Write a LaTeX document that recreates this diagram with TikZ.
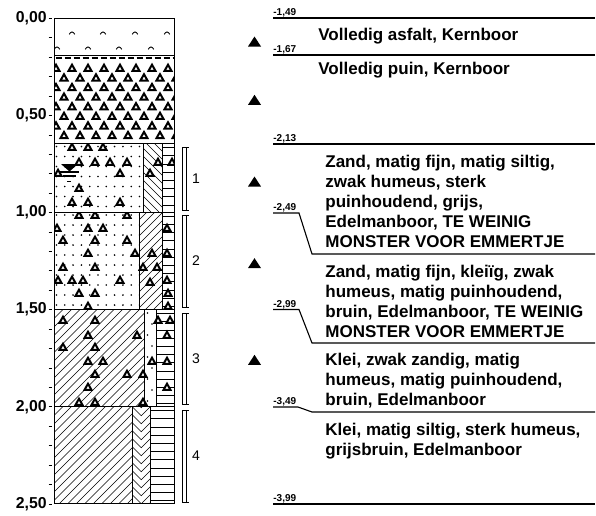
\documentclass[tikz,border=0pt]{standalone}
\usepackage{fontspec}
\setmainfont{Liberation Sans}

\tikzset{
  hatch/.style={line width=0.6pt},
  layerline/.style={line width=0.9pt},
  depthline/.style={line width=1.1pt},
  tri/.pic={\draw[line width=2pt,line join=miter,fill=white] (-3.5,2.9) -- (0,-3.3) -- (3.5,2.9) -- cycle;}
}

\newcommand{\hatchup}[5]{%
  \begin{scope}
    \clip (#1,#2) rectangle (#3,#4);
    \foreach \s in {0,...,30}
      \draw[hatch] ({#1-(#4-#2)+\s*#5},#4) -- ++({#4-#2},{-(#4-#2)});
  \end{scope}}
\newcommand{\hatchdown}[5]{%
  \begin{scope}
    \clip (#1,#2) rectangle (#3,#4);
    \foreach \s in {0,...,30}
      \draw[hatch] ({#1-(#4-#2)+\s*#5},#2) -- ++({#4-#2},{#4-#2});
  \end{scope}}
\newcommand{\hlines}[4]{%
  \begin{scope}
    \clip (#1,#2) rectangle (#3,#4);
    \foreach \s in {0,...,14}
      \draw[hatch] (#1,{#2+4+\s*8.2}) -- (#3,{#2+4+\s*8.2});
  \end{scope}}
\newcommand{\zanddots}[4]{%
  \begin{scope}
    \clip (#1,#2) rectangle (#3,#4);
    \foreach \i in {0,...,10}
      \foreach \j in {0,...,11}
        \fill ({#1+2+\j*8.3},{#2+3+\i*10}) circle (0.9);
  \end{scope}}

\begin{document}
\begin{tikzpicture}[x=1pt,y=-1pt,line width=0.8pt]
  \useasboundingbox (0,0) rectangle (596,515);

  % asfalt
  \begin{scope}
    \clip (54.5,18.3) rectangle (174.5,55);
    \foreach \x/\y in {72/33,103/33,135/33,167/33,57/48,88/48,119/48,151/48}
      \draw[line width=0.9pt] (\x-2.8,\y+1.3) .. controls (\x-1,\y-1.8) and (\x+1,\y-1.8) .. (\x+2.8,\y+1.3);
  \end{scope}

  % puin
  \draw[line width=2pt,dash pattern=on 6pt off 3pt] (55.5,58) -- (174,58);
  \begin{scope}
    \clip (54.5,55) rectangle (174.5,143.5);
    \foreach \k in {0,...,7}
      \foreach \i in {0,...,7}
        \pic at ({56+8*mod(\k,2)+16*\i},{68+9.6*\k}) {tri};
  \end{scope}

  % zand 1
  \zanddots{54.5}{143.5}{143}{212}
  \hatchdown{143}{143.5}{162}{212}{8}
  \hlines{162}{143.5}{174.5}{212}
  \begin{scope}
    \clip (54.5,143.5) rectangle (174.5,212);
    \foreach \x/\y in {72/147,88/147,103/147,79/162,95/162,110/162,127/162,58/173,120/173,79/188,72/202,88/202,120/202,158/162,150/173,172/162}
      \pic at (\x,\y) {tri};
  \end{scope}
  \fill (61,164) -- (78,164) -- (69.5,171.5) -- cycle;
  \draw[line width=1.5pt] (60,172) -- (79,172);
  \draw[line width=1.5pt] (63,176) -- (76,176);
  \draw[line width=1pt] (67,181) -- (71,181);

  % zand 2
  \zanddots{54.5}{212}{139}{309.5}
  \hatchup{139}{212}{162}{309.5}{8}
  \hlines{162}{212}{174.5}{309.5}
  \begin{scope}
    \clip (54.5,212) rectangle (174.5,309.5);
    \foreach \x/\y in {79/215,95/215,127/215,57/228,88/228,103/228,63/240,95/240,127/240,88/253,135/253,63/267,95/267,58/280,72/280,83/280,120/280,79/293,95/293,88/306,167/228,152/253,167/253,143/267,157/267,167/280,150/282,168/293,168/306}
      \pic at (\x,\y) {tri};
  \end{scope}

  % klei 3
  \hatchup{54.5}{309.5}{144}{406.5}{8.5}
  \foreach \j in {0,...,8}
    \fill ({147.5+4.5*mod(\j,2)},{313+11*\j}) circle (0.9);
  \hlines{156}{309.5}{174.5}{406.5}
  \begin{scope}
    \clip (54.5,309.5) rectangle (174.5,406.5);
    \foreach \x/\y in {63/320,95/320,88/335,137/335,63/347,95/347,88/361,103/361,95/374,127/374,143/374,88/387,79/402,95/402,143/402,158/320,170/320,167/335,152/361,167/361,167/387}
      \pic at (\x,\y) {tri};
  \end{scope}

  % klei 4
  \hatchup{54.5}{406.5}{132}{503.5}{8.5}
  \begin{scope}
    \clip (132,406.5) rectangle (150.5,503.5);
    \foreach \i in {-1,...,13}
      \draw[hatch] (132,{406.5+8*\i}) -- (141.25,{415.75+8*\i}) -- (150.5,{406.5+8*\i});
  \end{scope}
  \hlines{150.5}{406.5}{174.5}{503.5}

  \draw[layerline] (54.5,18.3) rectangle (174.5,503.5);
  \foreach \y in {55,143.5,212,309.5,406.5}
    \draw[layerline] (54.5,\y) -- (174.5,\y);
  \draw[line width=0.7pt] (143,143.5) -- (143,212) (162,143.5) -- (162,309.5)
    (139,212) -- (139,309.5) (144,309.5) -- (144,406.5) (156,309.5) -- (156,406.5)
    (132,406.5) -- (132,503.5) (150.5,406.5) -- (150.5,503.5);

  \foreach \i in {0,...,25}
    \draw[line width=0.6pt] (48.5,{18.3+19.42*\i}) -- ++(3,0);
  \begin{scope}[every node/.style={anchor=east,inner sep=0,font=\fontsize{15.8}{18}\selectfont\bfseries}]
    \node (d0) at (47,18.3) {0,00};
    \node (d1) at (47,115.4) {0,50};
    \node (d2) at (47,212.5) {1,00};
    \node (d3) at (47,309.6) {1,50};
    \node (d4) at (47,406.7) {2,00};
    \node (d5) at (47,503.8) {2,50};
  \end{scope}

  % monsters
  \foreach \a/\b in {147/210,215/307,313/404,410/502}
    \draw[line width=0.7pt] (189,\a) -- (182,\a) -- (182,\b) -- (189,\b) (186,\a) -- (186,\b);
  \begin{scope}[every node/.style={inner sep=0,font=\fontsize{14}{16}\selectfont}]
    \node (s1) at (196,178.5) {1};
    \node (s2) at (196,261) {2};
    \node (s3) at (196,358.5) {3};
    \node (s4) at (196,456) {4};
  \end{scope}

  \foreach \y in {41.7,100,181.7,263.3,360}
    \fill (254.5,\y) ++(-6.5,4.8) -- ++(6.5,-10) -- ++(6.5,10) -- cycle;

  \draw[depthline] (273,18) -- (595,18);
  \draw[depthline] (273,55) -- (595,55);
  \draw[depthline] (273,144) -- (595,144);
  \draw[depthline] (273,213) -- (299,213) -- (312,254) -- (595,254);
  \draw[depthline] (273,309.5) -- (299,309.5) -- (312,343) -- (595,343);
  \draw[depthline] (273,407) -- (298,407) -- (312,412) -- (595,412);
  \draw[depthline] (273,504) -- (595,504);
  \begin{scope}[every node/.style={anchor=base west,inner sep=0,font=\fontsize{10}{12}\selectfont\bfseries}]
    \node (n149) at (273,15.5) {-1,49};
    \node (n167) at (273,52.5) {-1,67};
    \node (n213) at (273,141.5) {-2,13};
    \node (n249) at (273,210.5) {-2,49};
    \node (n299) at (273,307) {-2,99};
    \node (n349) at (273,404.5) {-3,49};
    \node (n399) at (273,501.5) {-3,99};
  \end{scope}

  % base = baseline of the last line
  \begin{scope}[every node/.style={anchor=base west,align=left,inner sep=0,font=\fontsize{17}{20}\selectfont\bfseries}]
    \node (t1) at (318,40.7) {Volledig asfalt, Kernboor};
    \node (t2) at (318,74) {Volledig puin, Kernboor};
    \node (t3) at (325,247) {Zand, matig fijn, matig siltig,\\zwak humeus, sterk\\puinhoudend, grijs,\\Edelmanboor, TE WEINIG\\MONSTER VOOR EMMERTJE};
    \node (t4) at (325,337.5) {Zand, matig fijn, kleiïg, zwak\\humeus, matig puinhoudend,\\bruin, Edelmanboor, TE WEINIG\\MONSTER VOOR EMMERTJE};
    \node (t5) at (325,405) {Klei, zwak zandig, matig\\humeus, matig puinhoudend,\\bruin, Edelmanboor};
    \node (t6) at (325,455) {Klei, matig siltig, sterk humeus,\\grijsbruin, Edelmanboor};
  \end{scope}
\end{tikzpicture}
\end{document}
